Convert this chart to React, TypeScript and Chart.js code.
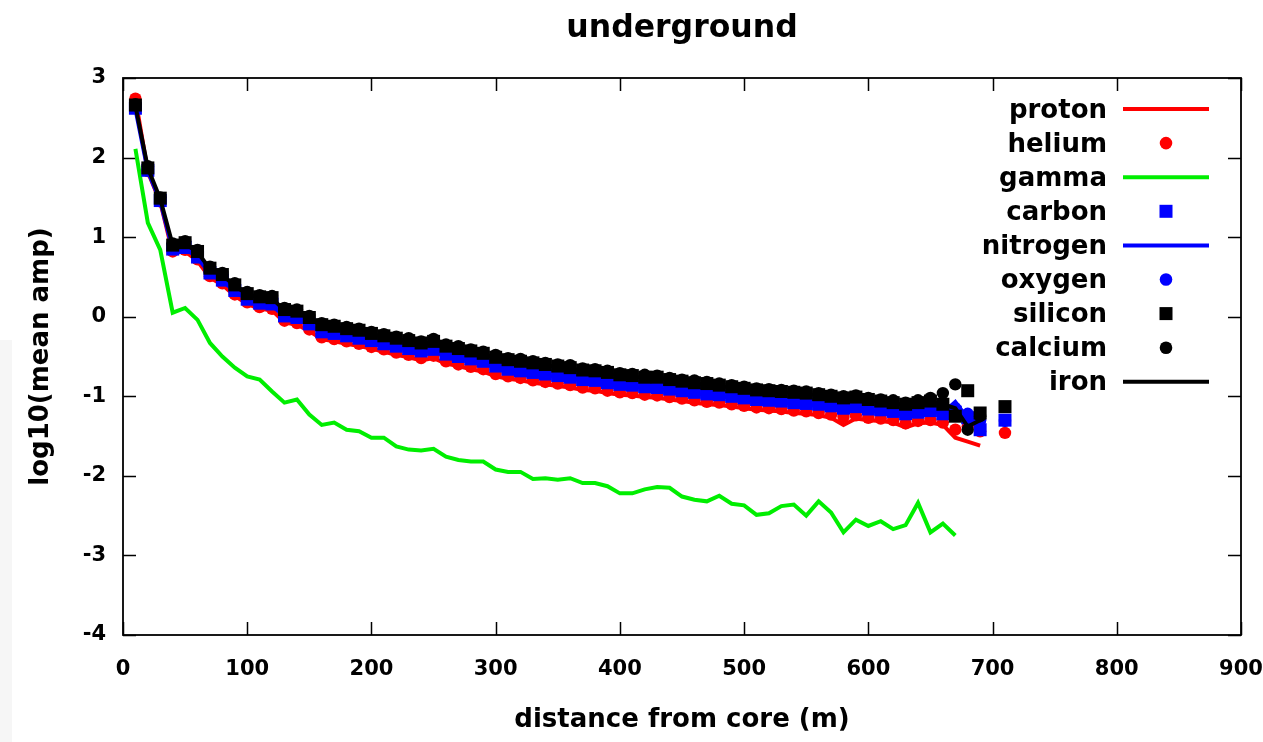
import React, { useEffect, useRef } from "react";
import { Chart, registerables } from "chart.js";

Chart.register(...registerables);

// distance from core (m): 10 .. 710 step 10 (700 has no data)
const distances = [
  10, 20, 30, 40, 50, 60, 70, 80, 90, 100,
  110, 120, 130, 140, 150, 160, 170, 180, 190, 200,
  210, 220, 230, 240, 250, 260, 270, 280, 290, 300,
  310, 320, 330, 340, 350, 360, 370, 380, 390, 400,
  410, 420, 430, 440, 450, 460, 470, 480, 490, 500,
  510, 520, 530, 540, 550, 560, 570, 580, 590, 600,
  610, 620, 630, 640, 650, 660, 670, 680, 690, 700, 710,
];

const proton = [
  2.74, 1.82, 1.44, 0.80, 0.82, 0.70, 0.49, 0.40, 0.26, 0.16,
  0.10, 0.08, -0.07, -0.10, -0.18, -0.28, -0.31, -0.34, -0.37, -0.40,
  -0.44, -0.48, -0.51, -0.55, -0.52, -0.59, -0.62, -0.66, -0.69, -0.75,
  -0.78, -0.80, -0.83, -0.85, -0.87, -0.89, -0.92, -0.93, -0.96, -0.98,
  -0.99, -1.01, -1.02, -1.04, -1.06, -1.08, -1.10, -1.11, -1.13, -1.15,
  -1.17, -1.18, -1.19, -1.21, -1.22, -1.24, -1.27, -1.36, -1.28, -1.30,
  -1.31, -1.33, -1.39, -1.34, -1.33, -1.36, -1.52, -1.57, -1.62, null, null,
];

const helium = [
  2.74, 1.83, 1.45, 0.82, 0.84, 0.72, 0.51, 0.42, 0.28, 0.18,
  0.12, 0.10, -0.05, -0.08, -0.16, -0.26, -0.28, -0.31, -0.34, -0.38,
  -0.41, -0.45, -0.48, -0.52, -0.49, -0.56, -0.60, -0.63, -0.66, -0.72,
  -0.75, -0.77, -0.80, -0.82, -0.84, -0.86, -0.89, -0.90, -0.93, -0.95,
  -0.96, -0.98, -0.99, -1.01, -1.03, -1.05, -1.07, -1.08, -1.10, -1.12,
  -1.14, -1.15, -1.16, -1.18, -1.19, -1.21, -1.23, -1.26, -1.24, -1.27,
  -1.28, -1.30, -1.34, -1.31, -1.30, -1.33, -1.42, -1.38, -1.44, null, -1.46,
];

const gamma = [
  2.11, 1.18, 0.84, 0.05, 0.11, -0.04, -0.33, -0.50, -0.64, -0.75,
  -0.79, -0.94, -1.08, -1.04, -1.23, -1.36, -1.33, -1.42, -1.44, -1.52,
  -1.52, -1.63, -1.67, -1.68, -1.66, -1.76, -1.80, -1.82, -1.82, -1.92,
  -1.95, -1.95, -2.04, -2.03, -2.05, -2.03, -2.09, -2.09, -2.13, -2.22,
  -2.22, -2.17, -2.14, -2.15, -2.26, -2.30, -2.32, -2.25, -2.35, -2.37,
  -2.49, -2.47, -2.38, -2.36, -2.50, -2.32, -2.46, -2.71, -2.55, -2.63,
  -2.57, -2.67, -2.62, -2.34, -2.71, -2.60, -2.75, null, null, null, null,
];

const carbon = [
  2.62, 1.84, 1.46, 0.85, 0.87, 0.75, 0.55, 0.46, 0.33, 0.22,
  0.17, 0.16, 0.01, -0.01, -0.09, -0.19, -0.21, -0.24, -0.27, -0.30,
  -0.34, -0.37, -0.40, -0.43, -0.41, -0.47, -0.50, -0.53, -0.56, -0.62,
  -0.66, -0.68, -0.70, -0.72, -0.74, -0.76, -0.79, -0.80, -0.83, -0.85,
  -0.86, -0.88, -0.89, -0.91, -0.93, -0.95, -0.97, -0.98, -1.00, -1.02,
  -1.04, -1.05, -1.06, -1.08, -1.09, -1.10, -1.12, -1.15, -1.13, -1.16,
  -1.17, -1.19, -1.22, -1.20, -1.18, -1.22, -1.20, -1.27, -1.42, null, -1.30,
];

const nitrogen = [
  2.61, 1.83, 1.45, 0.84, 0.86, 0.74, 0.54, 0.45, 0.32, 0.21,
  0.16, 0.14, 0.00, -0.03, -0.10, -0.20, -0.22, -0.26, -0.28, -0.32,
  -0.35, -0.39, -0.41, -0.45, -0.42, -0.49, -0.52, -0.55, -0.58, -0.64,
  -0.67, -0.69, -0.72, -0.74, -0.76, -0.78, -0.80, -0.82, -0.84, -0.87,
  -0.88, -0.90, -0.90, -0.93, -0.95, -0.97, -0.98, -1.00, -1.02, -1.04,
  -1.05, -1.07, -1.08, -1.09, -1.11, -1.12, -1.14, -1.17, -1.15, -1.18,
  -1.19, -1.21, -1.24, -1.21, -1.20, -1.21, -1.07, -1.28, -1.38, null, null,
];

const oxygen = [
  2.63, 1.85, 1.47, 0.86, 0.88, 0.77, 0.56, 0.47, 0.34, 0.23,
  0.18, 0.17, 0.02, 0.00, -0.08, -0.17, -0.20, -0.23, -0.26, -0.29,
  -0.33, -0.36, -0.39, -0.42, -0.39, -0.46, -0.49, -0.52, -0.55, -0.61,
  -0.64, -0.66, -0.69, -0.71, -0.73, -0.75, -0.78, -0.79, -0.82, -0.84,
  -0.85, -0.87, -0.87, -0.90, -0.92, -0.94, -0.96, -0.97, -0.99, -1.01,
  -1.03, -1.04, -1.05, -1.07, -1.08, -1.09, -1.11, -1.14, -1.12, -1.15,
  -1.16, -1.18, -1.21, -1.19, -1.17, -1.20, -1.15, -1.22, -1.30, null, -1.31,
];

const silicon = [
  2.66, 1.87, 1.49, 0.90, 0.93, 0.82, 0.61, 0.53, 0.40, 0.29,
  0.25, 0.24, 0.09, 0.07, -0.01, -0.10, -0.12, -0.15, -0.17, -0.21,
  -0.24, -0.27, -0.30, -0.33, -0.31, -0.37, -0.40, -0.43, -0.46, -0.51,
  -0.54, -0.56, -0.58, -0.60, -0.62, -0.64, -0.67, -0.68, -0.70, -0.73,
  -0.74, -0.76, -0.76, -0.79, -0.81, -0.83, -0.84, -0.86, -0.88, -0.90,
  -0.92, -0.93, -0.94, -0.95, -0.96, -0.98, -1.00, -1.02, -1.01, -1.04,
  -1.06, -1.08, -1.10, -1.08, -1.06, -1.10, -1.25, -0.93, -1.21, null, -1.13,
];

const calcium = [
  2.67, 1.89, 1.50, 0.92, 0.95, 0.84, 0.63, 0.55, 0.42, 0.31,
  0.27, 0.26, 0.11, 0.09, 0.01, -0.08, -0.10, -0.13, -0.15, -0.19,
  -0.22, -0.25, -0.27, -0.31, -0.28, -0.35, -0.37, -0.41, -0.44, -0.48,
  -0.52, -0.53, -0.56, -0.58, -0.60, -0.61, -0.65, -0.66, -0.68, -0.71,
  -0.72, -0.73, -0.74, -0.77, -0.79, -0.80, -0.82, -0.84, -0.86, -0.88,
  -0.90, -0.91, -0.92, -0.93, -0.94, -0.96, -0.98, -1.00, -0.99, -1.02,
  -1.04, -1.05, -1.08, -1.05, -1.02, -0.96, -0.85, -1.42, -1.25, null, null,
];

const iron = [
  2.65, 1.87, 1.48, 0.90, 0.92, 0.81, 0.60, 0.52, 0.39, 0.28,
  0.24, 0.23, 0.08, 0.06, -0.02, -0.11, -0.13, -0.16, -0.18, -0.22,
  -0.25, -0.28, -0.31, -0.34, -0.32, -0.38, -0.41, -0.44, -0.47, -0.52,
  -0.55, -0.57, -0.59, -0.61, -0.63, -0.65, -0.68, -0.69, -0.71, -0.74,
  -0.75, -0.77, -0.77, -0.80, -0.82, -0.84, -0.85, -0.87, -0.89, -0.91,
  -0.93, -0.94, -0.95, -0.96, -0.97, -0.99, -1.01, -1.03, -1.02, -1.05,
  -1.07, -1.09, -1.11, -1.09, -1.07, -1.10, -1.15, -1.38, -1.30, null, null,
];

const xTicks = [0, 100, 200, 300, 400, 500, 600, 700, 800, 900];
const yTicks = [-4, -3, -2, -1, 0, 1, 2, 3];

const chartTitle = "underground";
const xTitle = "distance from core (m)";
const yTitle = "log10(mean amp)";

const FONT = "'DejaVu Sans', sans-serif";

type Kind = "line" | "circle" | "rect";
const series: { label: string; data: (number | null)[]; kind: Kind; color: string }[] = [
  { label: "proton", data: proton, kind: "line", color: "#ff0000" },
  { label: "helium", data: helium, kind: "circle", color: "#ff0000" },
  { label: "gamma", data: gamma, kind: "line", color: "#00ee00" },
  { label: "carbon", data: carbon, kind: "rect", color: "#0000ff" },
  { label: "nitrogen", data: nitrogen, kind: "line", color: "#0000ff" },
  { label: "oxygen", data: oxygen, kind: "circle", color: "#0000ff" },
  { label: "silicon", data: silicon, kind: "rect", color: "#000000" },
  { label: "calcium", data: calcium, kind: "circle", color: "#000000" },
  { label: "iron", data: iron, kind: "line", color: "#000000" },
];

const framePlugin = {
  id: "gnuplotFrame",
  beforeDatasetsDraw(chart: any) {
    const { ctx, chartArea: a, scales } = chart;
    ctx.save();
    ctx.strokeStyle = "#000";
    ctx.lineWidth = 1.5;
    ctx.beginPath();
    for (const t of xTicks) {
      const px = Math.round(scales.x.getPixelForValue(t)) + 0.5;
      ctx.moveTo(px, a.bottom);
      ctx.lineTo(px, a.bottom - 13);
      ctx.moveTo(px, a.top);
      ctx.lineTo(px, a.top + 13);
    }
    for (const t of yTicks) {
      const py = Math.round(scales.y.getPixelForValue(t)) + 0.5;
      ctx.moveTo(a.left, py);
      ctx.lineTo(a.left + 13, py);
      ctx.moveTo(a.right, py);
      ctx.lineTo(a.right - 13, py);
    }
    ctx.stroke();
    ctx.lineWidth = 1.8;
    ctx.strokeRect(a.left, a.top, a.right - a.left, a.bottom - a.top);
    ctx.restore();
  },
  afterDraw(chart: any) {
    const { ctx, chartArea: a } = chart;
    ctx.save();
    // title
    ctx.fillStyle = "#000";
    ctx.font = `bold 31.5px ${FONT}`;
    ctx.textAlign = "center";
    ctx.textBaseline = "alphabetic";
    ctx.fillText(chartTitle, (a.left + a.right) / 2, 37);
    // legend
    const textRight = 1107;
    const sampleL = 1123;
    const sampleR = 1209;
    const markX = 1166;
    ctx.font = `bold 26px ${FONT}`;
    ctx.textAlign = "right";
    series.forEach((s, i) => {
      const y = 109 + i * 34.1;
      ctx.fillStyle = "#000";
      ctx.fillText(s.label, textRight, y + 8.5);
      ctx.fillStyle = s.color;
      ctx.strokeStyle = s.color;
      if (s.kind === "line") {
        ctx.lineWidth = 4;
        ctx.beginPath();
        ctx.moveTo(sampleL, y);
        ctx.lineTo(sampleR, y);
        ctx.stroke();
      } else if (s.kind === "circle") {
        ctx.beginPath();
        ctx.arc(markX, y, 6.3, 0, Math.PI * 2);
        ctx.fill();
      } else {
        ctx.fillRect(markX - 6.5, y - 6.5, 13, 13);
      }
    });
    ctx.restore();
  },
};

export default function App() {
  const ref = useRef<HTMLCanvasElement | null>(null);

  useEffect(() => {
    if (!ref.current) return;
    const datasets = series.map((s, i) => {
      const pts = distances.map((d, j) => ({ x: d, y: s.data[j] }));
      const base: any = {
        label: s.label,
        data: pts,
        order: series.length - i,
        borderColor: s.color,
        backgroundColor: s.color,
      };
      if (s.kind === "line") {
        return { ...base, showLine: true, borderWidth: 4, pointRadius: 0, tension: 0, spanGaps: false };
      }
      return {
        ...base,
        showLine: false,
        pointStyle: s.kind,
        pointRadius: s.kind === "rect" ? 9.2 : 6.2,
        pointBorderWidth: 0,
        borderWidth: 0,
      };
    });

    const tickFont = { family: FONT, size: 21, weight: "bold" as const };
    const titleFont = { family: FONT, size: 26, weight: "bold" as const };

    const chart = new Chart(ref.current, {
      type: "line",
      data: { datasets },
      options: {
        animation: false,
        responsive: false,
        maintainAspectRatio: false,
        layout: { padding: { top: 78, right: 22, left: 0, bottom: 0 } },
        plugins: {
          legend: { display: false },
          tooltip: { enabled: false },
          title: { display: false },
        },
        scales: {
          x: {
            type: "linear",
            min: 0,
            max: 900,
            afterBuildTicks(scale: any) {
              scale.ticks = xTicks.map((v) => ({ value: v }));
            },
            ticks: { color: "#000", font: tickFont, padding: 22, maxRotation: 0 },
            grid: { display: false, drawTicks: false },
            border: { display: false },
            title: {
              display: true,
              text: xTitle,
              color: "#000",
              font: titleFont,
              padding: { top: 0, bottom: 6 },
            },
            afterFit(scale: any) {
              scale.height = 107;
              scale.paddingLeft = 0;
              scale.paddingRight = 0;
            },
          },
          y: {
            type: "linear",
            min: -4,
            max: 3,
            afterBuildTicks(scale: any) {
              scale.ticks = yTicks.map((v) => ({ value: v }));
            },
            ticks: { color: "#000", font: tickFont, padding: 17 },
            grid: { display: false, drawTicks: false },
            border: { display: false },
            title: {
              display: true,
              text: yTitle,
              color: "#000",
              font: titleFont,
              padding: { top: 26, bottom: 0 },
            },
            afterFit(scale: any) {
              scale.width = 123;
              scale.paddingTop = 0;
              scale.paddingBottom = 0;
            },
          },
        },
      },
      plugins: [framePlugin],
    });
    return () => chart.destroy();
  }, []);

  return (
    <div style={{ position: "fixed", left: 0, top: 0, width: 1263, height: 742, background: "#ffffff" }}>
      <div style={{ position: "absolute", left: 0, top: 340, width: 12, height: 402, background: "#f6f6f6" }} />
      <canvas ref={ref} width={1263} height={742} style={{ position: "absolute", left: 0, top: 0 }} />
    </div>
  );
}
